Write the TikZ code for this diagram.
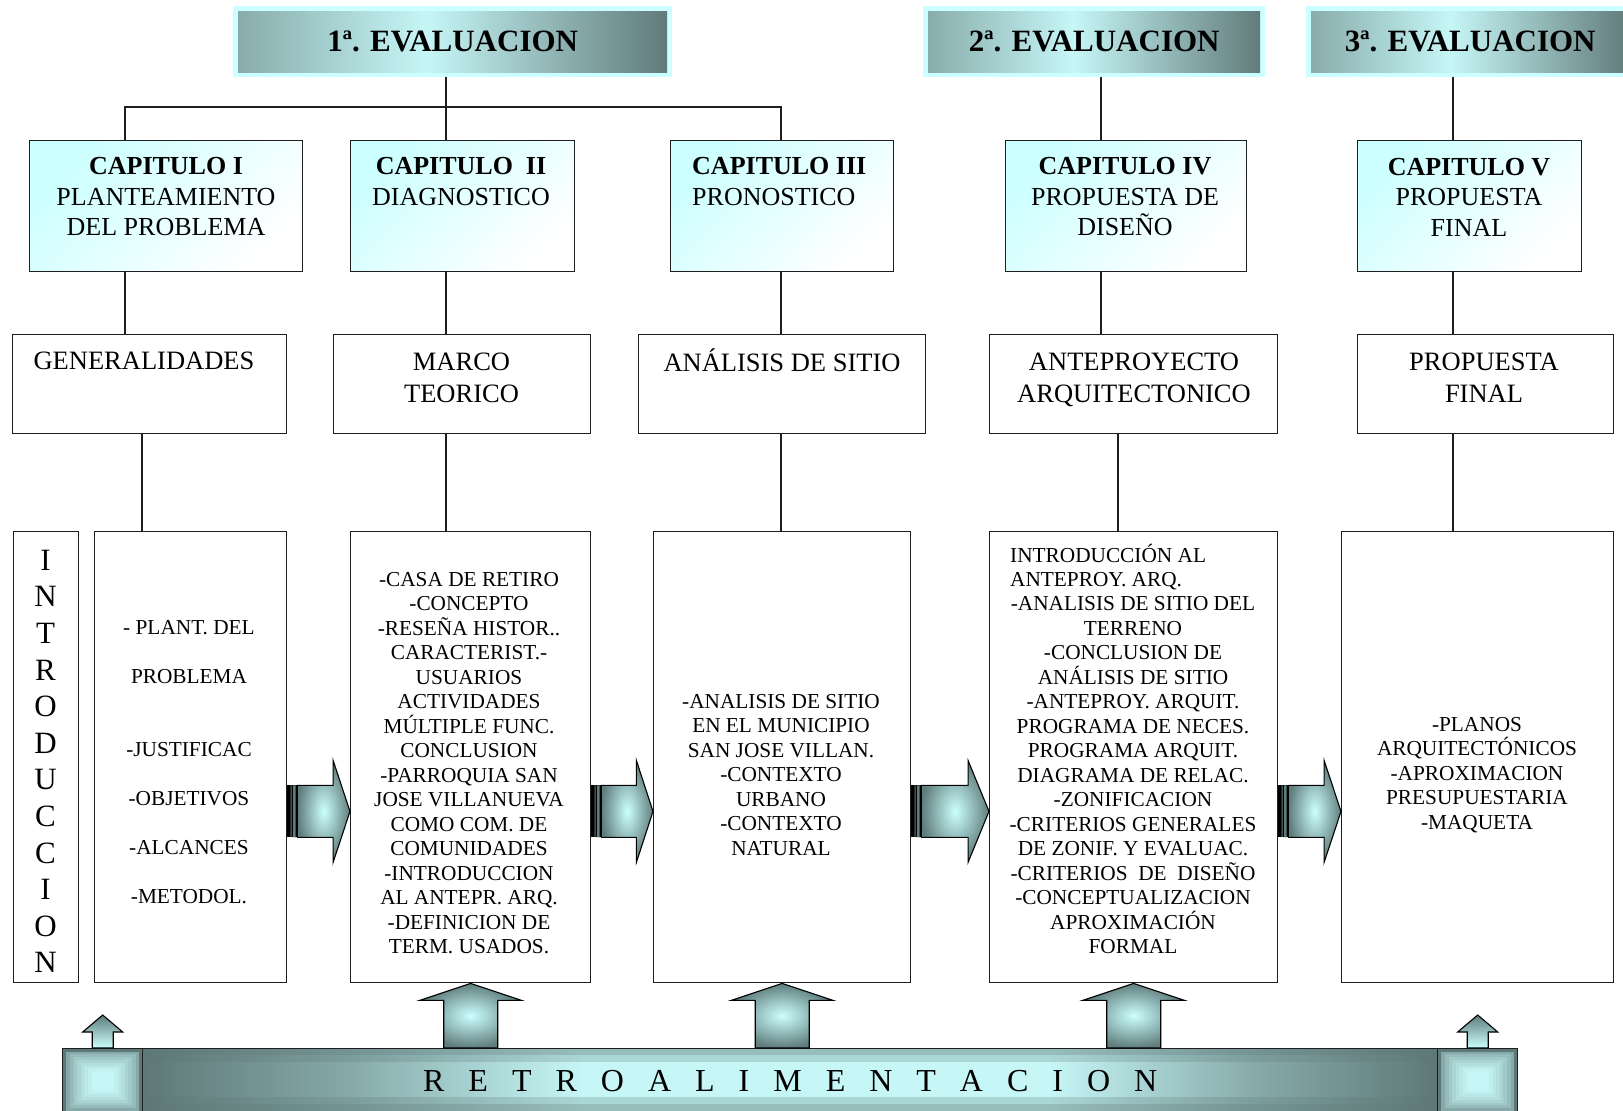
\documentclass[tikz,border=0pt]{standalone}
\usepackage{fontspec}
\setmainfont{Liberation Serif}
\usetikzlibrary{calc}

\definecolor{boxline}{HTML}{1E1E1E}
\definecolor{evframe}{HTML}{CCFFFF}
\definecolor{evdark}{HTML}{5E7877}
\definecolor{evmid}{HTML}{86AAA9}
\definecolor{evlight}{HTML}{C6F6F6}
\definecolor{capcyan}{HTML}{CCFFFF}
\definecolor{arrlight}{HTML}{CCFFFF}
\definecolor{arrdark}{HTML}{5F7D7C}

\pgfdeclarehorizontalshading{evalshade}{100bp}{color(0bp)=(evmid); color(25bp)=(evmid);
  color(47bp)=(evlight); color(75bp)=(evdark); color(100bp)=(evdark)}
\pgfdeclarehorizontalshading{barshade}{100bp}{color(0bp)=(evdark); color(25bp)=(evdark);
  color(33bp)=(evmid); color(42bp)=(evlight); color(60bp)=(evlight); color(68bp)=(evmid);
  color(75bp)=(evdark); color(100bp)=(evdark)}

\newcommand{\evalfont}{\bfseries\fontsize{31}{36}\selectfont}
\newcommand{\capfont}{\fontsize{26}{30.5}\selectfont}
\newcommand{\subfont}{\fontsize{26.5}{32}\selectfont}
\newcommand{\detfont}{\fontsize{21.3}{24.5}\selectfont}
\newcommand{\barfont}{\fontsize{32}{36}\selectfont\spaceskip=24pt\relax}

\newcommand{\rightblock}[2]{%
  \fill[black] let \p1=([yshift=172pt]#1.south east) in
    (\x1,{\y1+26pt}) rectangle ({\x1+10pt},{\y1-26pt});
  \fill[arrdark] let \p1=([yshift=172pt]#1.south east) in
    ({\x1+3.3pt},{\y1+26pt}) rectangle ({\x1+4.3pt},{\y1-26pt})
    ({\x1+5.7pt},{\y1+26pt}) rectangle ({\x1+8.3pt},{\y1-26pt});
  \shadedraw[blockarrow] let \p1=([yshift=172pt]#1.south east),
      \p2=([yshift=172pt]#2.south west), \n1={0.27*(\x2-\x1)} in
    ({\x1+10pt},{\y1+26pt}) -- ({\x2-\n1},{\y1+26pt}) -- ({\x2-\n1},{\y1+51pt})
    -- (\x2,\y1) -- ({\x2-\n1},{\y1-51pt}) -- ({\x2-\n1},{\y1-26pt})
    -- ({\x1+10pt},{\y1-26pt}) -- cycle;
}
\newcommand{\upblock}[2]{%
  \shadedraw[blockarrow] let \p1=(#1.south), \p2=(#2.north) in
    ({\x1-27pt},\y2) -- ({\x1-27pt},{\y1-17pt}) -- ({\x1-51pt},{\y1-17pt})
    -- (\x1,\y1) -- ({\x1+51pt},{\y1-17pt}) -- ({\x1+27pt},{\y1-17pt})
    -- ({\x1+27pt},\y2) -- cycle;
}
\newcommand{\smallup}[1]{%
  \shadedraw[smallarrow] let \p1=(#1.north) in
    ({\x1-10.5pt},\y1) -- ({\x1-10.5pt},{\y1+16pt}) -- ({\x1-20pt},{\y1+16pt})
    -- (\x1,{\y1+33pt}) -- ({\x1+20pt},{\y1+16pt}) -- ({\x1+10.5pt},{\y1+16pt})
    -- ({\x1+10.5pt},\y1) -- cycle;
}

\begin{document}
\begin{tikzpicture}[x=1pt,y=-1pt,
  evalbox/.style={fill=evframe, inner sep=0pt, anchor=north west, font=\evalfont,
    path picture={\shade[shading=evalshade]
      ([shift={(5pt,-5pt)}]path picture bounding box.north west) rectangle
      ([shift={(-5pt,5pt)}]path picture bounding box.south east);}},
  capbox/.style={draw=boxline, line width=1.4pt, anchor=north west, inner sep=0pt,
    top color=capcyan, bottom color=white, shading angle=45},
  plainbox/.style={draw=boxline, line width=1.4pt, anchor=north west, inner sep=0pt, fill=white},
  rectgrad/.style n args={3}{path picture={\foreach \k in {0,...,#1}{
      \pgfmathsetmacro\tone{100*(\k/#1)^0.45}
      \fill[evlight!\tone!evdark]
        ([shift={(\k*#2,-\k*#3)}]path picture bounding box.north west) rectangle
        ([shift={(-\k*#2,\k*#3)}]path picture bounding box.south east);}}},
  barbox/.style={draw=boxline, line width=1.4pt, anchor=north west, inner sep=0pt,
    shade, shading=barshade,
    path picture={
      \fill[evdark, opacity=.45] (path picture bounding box.north west) rectangle
        ([yshift=-6pt]path picture bounding box.north east);
      \fill[evdark, opacity=.25] ([yshift=-6pt]path picture bounding box.north west) rectangle
        ([yshift=-13pt]path picture bounding box.north east);
      \fill[evdark, opacity=.45] ([yshift=2pt]path picture bounding box.south west) rectangle
        ([yshift=10pt]path picture bounding box.south east);
      \fill[evdark, opacity=.25] ([yshift=10pt]path picture bounding box.south west) rectangle
        ([yshift=17pt]path picture bounding box.south east);}},
  endbox/.style={draw=boxline, line width=1.4pt, anchor=north west, inner sep=0pt,
    minimum width=80, minimum height=65, rectgrad={8}{3.6pt}{2.8pt}},
  captext/.style={font=\capfont, align=center, inner sep=0pt},
  subtext/.style={font=\subfont, align=center, inner sep=0pt},
  dettext/.style={font=\detfont, align=center, inner sep=0pt},
  link/.style={draw=boxline, line width=1.4pt},
  blockarrow/.style={inner color=arrlight, outer color=arrdark, draw=black, line width=1.1pt},
  smallarrow/.style={top color=arrdark, bottom color=arrlight, draw=black, line width=1.1pt}]
\useasboundingbox (0,0) rectangle (1623,1111);

\node[evalbox, minimum width=439, minimum height=71] (h1) at (233,6) {1ª. EVALUACION};
\node[evalbox, minimum width=342, minimum height=71] (h2) at (923,6) {2ª. EVALUACION};
\node[evalbox, minimum width=328, minimum height=71] (h3) at (1306,6) {3ª. EVALUACION};

\node[capbox, minimum width=273, minimum height=131] (c1) at (29,140) {};
\node[capbox, minimum width=224, minimum height=131] (c2) at (350,140) {};
\node[capbox, minimum width=223, minimum height=131] (c3) at (670,140) {};
\node[capbox, minimum width=241, minimum height=131] (c4) at (1005,140) {};
\node[capbox, minimum width=224, minimum height=131] (c5) at (1357,140) {};

\node[plainbox, minimum width=274, minimum height=99] (s1) at (12,334) {};
\node[plainbox, minimum width=257, minimum height=99] (s2) at (333,334) {};
\node[plainbox, minimum width=287, minimum height=99] (s3) at (638,334) {};
\node[plainbox, minimum width=288, minimum height=99] (s4) at (989,334) {};
\node[plainbox, minimum width=256, minimum height=99] (s5) at (1357,334) {};

\node[plainbox, minimum width=65, minimum height=451] (intro) at (13,531) {};
\node[plainbox, minimum width=192, minimum height=451] (d1) at (94,531) {};
\node[plainbox, minimum width=240, minimum height=451] (d2) at (350,531) {};
\node[plainbox, minimum width=257, minimum height=451] (d3) at (653,531) {};
\node[plainbox, minimum width=288, minimum height=451] (d4) at (989,531) {};
\node[plainbox, minimum width=272, minimum height=451] (d5) at (1341,531) {};

\coordinate (col1) at (125,107);
\coordinate (col2) at (446,107);
\coordinate (col3) at (781,107);
\coordinate (col4) at (1101,107);
\coordinate (col5) at (1453,107);
\coordinate (low1) at (142,480);
\coordinate (low2) at (446,480);
\coordinate (low3) at (781,480);
\coordinate (low4) at (1118,480);
\coordinate (low5) at (1453,480);

\draw[link] (c1.north -| col1) |- (col3) -- (c3.north -| col3);
\draw[link] (h1.south -| col2) -- (c2.north -| col2);
\draw[link] (h2.south -| col4) -- (c4.north -| col4);
\draw[link] (h3.south -| col5) -- (c5.north -| col5);
\foreach \i in {1,...,5}{
  \draw[link] (c\i.south -| col\i) -- (s\i.north -| col\i);
  \draw[link] (s\i.south -| low\i) -- (d\i.north -| low\i);
}

\node[captext] (c1t) at (166,197) {{\bfseries CAPITULO I}\\PLANTEAMIENTO\\DEL PROBLEMA};
\node[captext] (c2t) at (461,181.5) {{\bfseries CAPITULO~ II}\\DIAGNOSTICO};
\node[captext, align=left, anchor=west] (c3t) at (692,181.5) {{\bfseries CAPITULO III}\\PRONOSTICO};
\node[captext] (c4t) at (1125,197) {{\bfseries CAPITULO IV}\\PROPUESTA DE\\DISEÑO};
\node[captext] (c5t) at (1469,197) {{\bfseries CAPITULO V}\\PROPUESTA\\FINAL};

\node[subtext] (s1t) at (144,361) {GENERALIDADES};
\node[subtext] (s2t) at (461.5,378) {MARCO\\TEORICO};
\node[subtext] (s3t) at (782,360) {ANÁLISIS DE SITIO};
\node[subtext] (s4t) at (1134,380) {ANTEPROYECTO\\ARQUITECTONICO};
\node[subtext] (s5t) at (1484,378) {PROPUESTA\\FINAL};

\node[align=center, inner sep=0pt, font=\fontsize{31}{36.6}\selectfont] (introt) at (45.5,761.5)
  {I\\N\\T\\R\\O\\D\\U\\C\\C\\I\\O\\N};
\node[dettext, font=\fontsize{21.3}{49}\selectfont] (d1t) at (189,762.5)
  {- PLANT. DEL\\PROBLEMA\\[24pt]-JUSTIFICAC\\-OBJETIVOS\\-ALCANCES\\-METODOL.};
\node[dettext] (d2t) at (469,763) {-CASA DE RETIRO\\-CONCEPTO\\-RESEÑA HISTOR..\\CARACTERIST.-\\USUARIOS\\ACTIVIDADES\\MÚLTIPLE FUNC.\\CONCLUSION\\-PARROQUIA SAN\\JOSE VILLANUEVA\\COMO COM. DE\\COMUNIDADES\\-INTRODUCCION\\AL ANTEPR. ARQ.\\-DEFINICION DE\\TERM. USADOS.};
\node[dettext] (d3t) at (781,775) {-ANALISIS DE SITIO\\EN EL MUNICIPIO\\SAN JOSE VILLAN.\\-CONTEXTO\\URBANO\\-CONTEXTO\\NATURAL};
\node[dettext, align=left, anchor=west] (d4a) at (1010,567) {INTRODUCCIÓN AL\\ANTEPROY. ARQ.};
\node[dettext] (d4b) at (1133,775.5) {-ANALISIS DE SITIO DEL\\TERRENO\\-CONCLUSION DE\\ANÁLISIS DE SITIO\\-ANTEPROY. ARQUIT.\\PROGRAMA DE NECES.\\PROGRAMA ARQUIT.\\DIAGRAMA DE RELAC.\\-ZONIFICACION\\-CRITERIOS GENERALES\\DE ZONIF. Y EVALUAC.\\-CRITERIOS~ DE~ DISEÑO\\-CONCEPTUALIZACION\\APROXIMACIÓN\\FORMAL};
\node[dettext] (d5t) at (1477,775) {-PLANOS\\ARQUITECTÓNICOS\\-APROXIMACION\\PRESUPUESTARIA\\-MAQUETA};

\node[barbox, font=\barfont, minimum width=1295, minimum height=65] (bar) at (142,1048)
  {R E T R O A L I M E N T A C I O N};
\node[endbox] (lb) at (62,1048) {};
\node[endbox] (rb) at (1437,1048) {};

\rightblock{d1}{d2}
\rightblock{d2}{d3}
\rightblock{d3}{d4}
\rightblock{d4}{d5}
\upblock{d2}{bar}
\upblock{d3}{bar}
\upblock{d4}{bar}
\smallup{lb}
\smallup{rb}
\end{tikzpicture}
\end{document}
